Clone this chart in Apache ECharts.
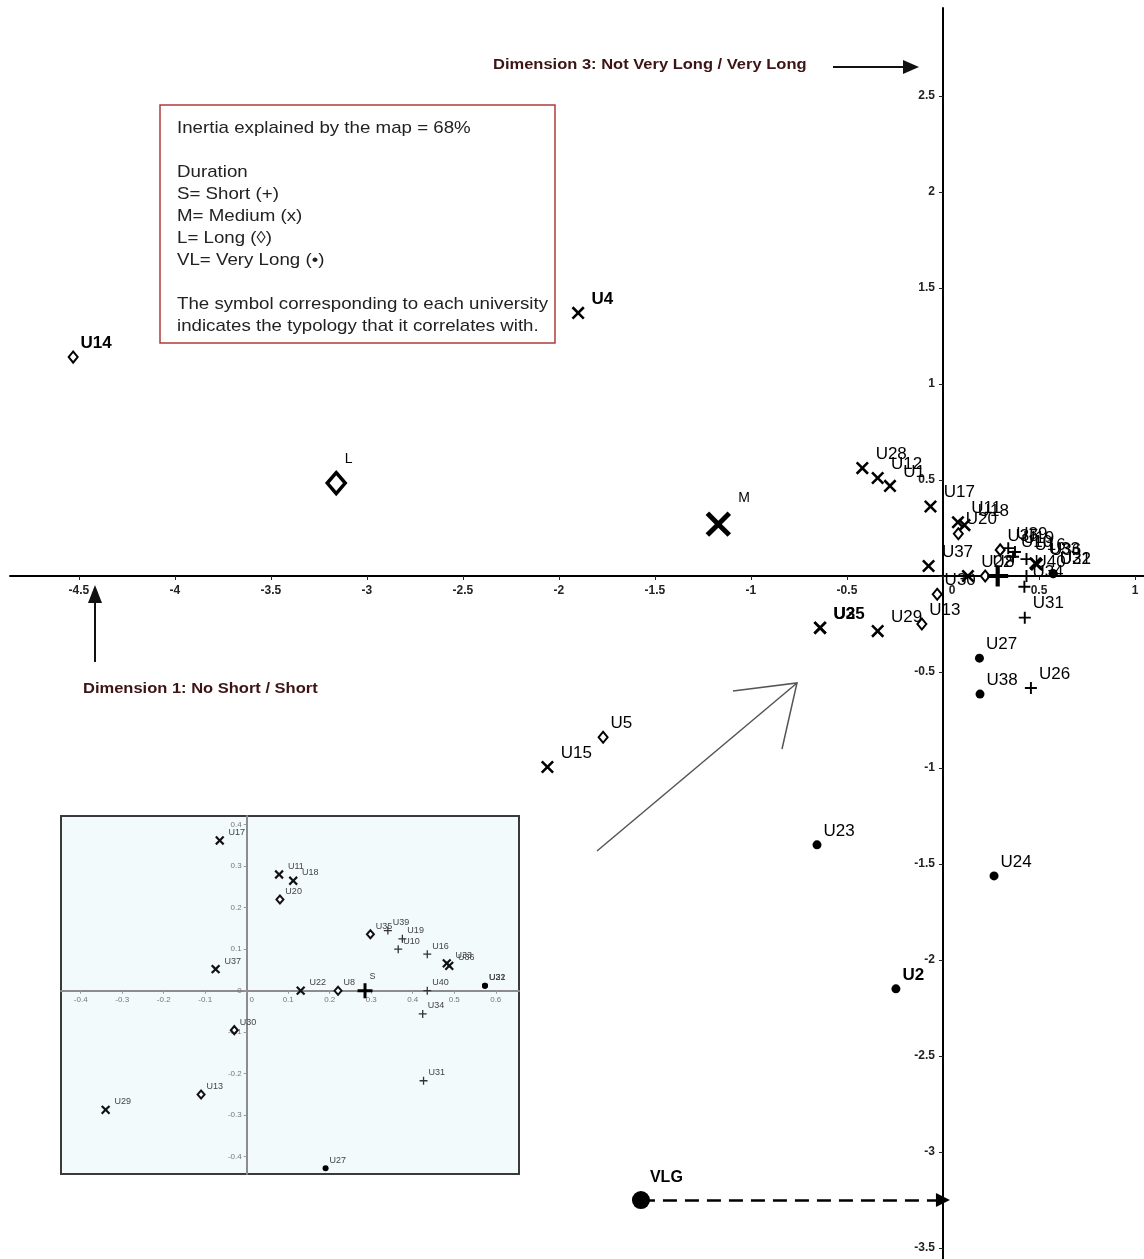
<!DOCTYPE html>
<html>
<head>
<meta charset="utf-8">
<script src="https://cdn.jsdelivr.net/npm/echarts@6/dist/echarts.min.js"></script>
<style>
html, body { margin: 0; padding: 0; background: #fff; }
#chart { width: 1144px; height: 1259px; }
</style>
</head>
<body>
<div id="chart"></div>
<script>
// Correspondence map: universities on Dimension 1 (x) and Dimension 3 (y).
// Each row: [label, dimension 1, dimension 3]
const SHORT_PTS = [
  ['U39', 0.34, 0.145],
  ['U19', 0.375, 0.125],
  ['U10', 0.365, 0.10],
  ['U16', 0.435, 0.088],
  ['U40', 0.435, 0.0],
  ['U34', 0.424, -0.056],
  ['U31', 0.426, -0.217],
  ['U26', 0.458, -0.583]
];
const MEDIUM_PTS = [
  ['U4', -1.90, 1.37],
  ['U28', -0.42, 0.562],
  ['U12', -0.34, 0.51],
  ['U1', -0.276, 0.469],
  ['U17', -0.065, 0.362],
  ['U11', 0.078, 0.28],
  ['U18', 0.112, 0.265],
  ['U37', -0.075, 0.052],
  ['U22', 0.13, 0.0],
  ['U29', -0.34, -0.287],
  ['U3', -0.64, -0.27],
  ['U25', -0.64, -0.27],
  ['U15', -2.06, -0.995],
  ['U33', 0.482, 0.066],
  ['U36', 0.488, 0.06]
];
const LONG_PTS = [
  ['U14', -4.53, 1.14],
  ['U20', 0.08, 0.22],
  ['U35', 0.298, 0.136],
  ['U8', 0.22, 0.0],
  ['U30', -0.03, -0.095],
  ['U13', -0.11, -0.25],
  ['U5', -1.77, -0.84]
];
const VERY_LONG_PTS = [
  ['U27', 0.19, -0.428],
  ['U38', 0.193, -0.615],
  ['U23', -0.656, -1.40],
  ['U24', 0.266, -1.562],
  ['U2', -0.245, -2.15],
  ['U32', 0.574, 0.012],
  ['U21', 0.574, 0.012]
];
// Duration typologies (category points)
const CENTROIDS = [
  ['S', 0.285, 0.0],
  ['M', -1.17, 0.27],
  ['L', -3.16, 0.484],
  ['VLG', -1.573, -3.25]
];
const BOLD_LABELS = ['U14', 'U4', 'U3', 'U25', 'U2', 'VLG'];

// Tick labels
const X_TICKS = [-4.5, -4, -3.5, -3, -2.5, -2, -1.5, -1, -0.5, 0, 0.5, 1];
const Y_TICKS = [-3.5, -3, -2.5, -2, -1.5, -1, -0.5, 0, 0.5, 1, 1.5, 2, 2.5];
const INSET_X_TICKS = [-0.4, -0.3, -0.2, -0.1, 0, 0.1, 0.2, 0.3, 0.4, 0.5, 0.6];
const INSET_Y_TICKS = [-0.4, -0.3, -0.2, -0.1, 0, 0.1, 0.2, 0.3, 0.4];

const LEGEND_LINES = [
  'Inertia explained by the map = 68%',
  '',
  'Duration',
  'S= Short (+)',
  'M= Medium (x)',
  'L= Long (\u25CA)',
  'VL= Very Long (\u2022)',
  '',
  'The symbol corresponding to each university',
  'indicates the typology that it correlates with.'
];

const FONT = '"Liberation Sans", Arial, sans-serif';
const PLUS_BOLD = 'path://M4,0H6V4H10V6H6V10H4V6H0V4H4Z';
const PLUS_THIN = 'path://M4.2,0H5.8V4.2H10V5.8H5.8V10H4.2V5.8H0V4.2H4.2Z';

// Plot areas and visible value ranges
const MAIN = { left: 10, top: 8, width: 1134, height: 1251, xMin: -4.859, xMax: 1.047, yMin: -3.557, yMax: 2.958 };
const INSET = { left: 61, top: 816, width: 458, height: 358, xMin: -0.4475, xMax: 0.656, yMin: -0.4417, yMax: 0.421 };

// Axis offsets that put each axis through the origin of its plot
function xAxisOffset(g) { return -(g.height * (0 - g.yMin) / (g.yMax - g.yMin)); }
function yAxisOffset(g) { return -(g.width * (0 - g.xMin) / (g.xMax - g.xMin)); }

function toData(pts) {
  return pts.map(p => {
    const item = { name: p[0], value: [p[1], p[2]] };
    if (BOLD_LABELS.indexOf(p[0]) >= 0) item.label = { fontWeight: 'bold' };
    return item;
  });
}

const mainLabel = {
  show: true, formatter: '{b}', position: 'right', distance: 2, offset: [0, -14],
  fontFamily: FONT, fontSize: 17, color: '#000', opacity: 1
};
const insetLabel = {
  show: true, formatter: '{b}', position: 'right', distance: 1, offset: [0, -8],
  fontFamily: FONT, fontSize: 9, color: '#444', opacity: 1
};

function group(pts, style, grid, label) {
  return Object.assign({
    type: 'scatter', xAxisIndex: grid, yAxisIndex: grid,
    data: toData(pts), label: label, clip: true, silent: true, z: 3
  }, style);
}

const vlg = CENTROIDS.find(c => c[0] === 'VLG');

const centroidMain = {
  type: 'scatter', xAxisIndex: 0, yAxisIndex: 0, silent: true, z: 4,
  label: Object.assign({}, mainLabel, { fontSize: 15, offset: [0, -22] }),
  data: CENTROIDS.map(c => {
    const item = { name: c[0], value: [c[1], c[2]] };
    if (c[0] === 'S') {
      Object.assign(item, { symbol: PLUS_BOLD, symbolSize: 21, itemStyle: { color: '#000', opacity: 1 }, label: { show: false } });
    } else if (c[0] === 'M') {
      Object.assign(item, { symbol: PLUS_THIN, symbolSize: 31, symbolRotate: 45, itemStyle: { color: '#000', opacity: 1 },
        label: { offset: [-4, -26], fontSize: 14 } });
    } else if (c[0] === 'L') {
      Object.assign(item, { symbol: 'diamond', symbolSize: [18, 21],
        itemStyle: { color: '#fff', borderColor: '#000', borderWidth: 3.5, opacity: 1 },
        label: { offset: [-4, -24], fontSize: 14 } });
    } else {
      Object.assign(item, { symbol: 'circle', symbolSize: 18, itemStyle: { color: '#000', opacity: 1 },
        label: { fontWeight: 'bold', fontSize: 16, offset: [-2, -22] } });
    }
    return item;
  }),
  markLine: {
    silent: true, symbol: ['none', 'triangle'], symbolSize: 14,
    label: { show: false },
    lineStyle: { type: [14, 8], color: '#000', width: 2.5, opacity: 1 },
    data: [[{ coord: [vlg[1], vlg[2]] }, { coord: [0, vlg[2]] }]]
  }
};

const centroidInset = {
  type: 'scatter', xAxisIndex: 1, yAxisIndex: 1, silent: true, z: 4, clip: true,
  label: Object.assign({}, insetLabel, { offset: [-4, -14] }),
  data: CENTROIDS.filter(c => c[0] === 'S').map(c => ({ name: c[0], value: [c[1], c[2]] })),
  symbol: PLUS_BOLD, symbolSize: 15, itemStyle: { color: '#000', opacity: 1 }
};

function numLabel(v) {
  return String(Math.round(v * 10) / 10);
}

const chart = echarts.init(document.getElementById('chart'), null, { renderer: 'canvas' });

chart.setOption({
  animation: false,
  backgroundColor: '#fff',
  grid: [
    { left: MAIN.left, top: MAIN.top, width: MAIN.width, height: MAIN.height, show: false,
      containLabel: false, outerBoundsMode: 'none' },
    { left: INSET.left, top: INSET.top, width: INSET.width, height: INSET.height, show: true,
      containLabel: false, outerBoundsMode: 'none', z: 0,
      backgroundColor: '#f2fafc', borderColor: '#3a3a3a', borderWidth: 2 }
  ],
  xAxis: [
    {
      gridIndex: 0, type: 'value', min: MAIN.xMin, max: MAIN.xMax, position: 'bottom',
      offset: xAxisOffset(MAIN), z: 2,
      axisLine: { onZero: false, lineStyle: { color: '#000', width: 2 } },
      splitLine: { show: false },
      axisTick: { show: true, length: 4, customValues: X_TICKS, lineStyle: { color: '#222', width: 1 } },
      axisLabel: {
        customValues: X_TICKS, margin: 9, fontFamily: FONT, fontSize: 12, fontWeight: 'bold', color: '#222',
        formatter: v => (v === 0 ? '{z|0}' : numLabel(v)),
        rich: { z: { padding: [0, 0, 0, 18], fontFamily: FONT, fontSize: 12, fontWeight: 'bold', color: '#222' } }
      }
    },
    {
      gridIndex: 1, type: 'value', min: INSET.xMin, max: INSET.xMax, position: 'bottom',
      offset: xAxisOffset(INSET), z: 2,
      axisLine: { onZero: false, lineStyle: { color: '#8c8c8c', width: 2 } },
      splitLine: { show: false },
      axisTick: { show: true, length: 3, customValues: INSET_X_TICKS, lineStyle: { color: '#999' } },
      axisLabel: {
        customValues: INSET_X_TICKS, margin: 5, fontFamily: FONT, fontSize: 8, color: '#777',
        formatter: v => (v === 0 ? '{z|0}' : numLabel(v)),
        rich: { z: { padding: [0, 0, 0, 10], fontFamily: FONT, fontSize: 8, color: '#777' } }
      }
    }
  ],
  yAxis: [
    {
      gridIndex: 0, type: 'value', min: MAIN.yMin, max: MAIN.yMax, position: 'left',
      offset: yAxisOffset(MAIN), z: 2,
      axisLine: { onZero: false, lineStyle: { color: '#000', width: 2 } },
      splitLine: { show: false },
      axisTick: { show: true, length: 4, customValues: Y_TICKS, lineStyle: { color: '#222', width: 1 } },
      axisLabel: {
        customValues: Y_TICKS, margin: 8, fontFamily: FONT, fontSize: 12, fontWeight: 'bold', color: '#222',
        formatter: v => (v === 0 ? '' : numLabel(v))
      }
    },
    {
      gridIndex: 1, type: 'value', min: INSET.yMin, max: INSET.yMax, position: 'left',
      offset: yAxisOffset(INSET), z: 2,
      axisLine: { onZero: false, lineStyle: { color: '#8c8c8c', width: 2 } },
      splitLine: { show: false },
      axisTick: { show: true, length: 3, customValues: INSET_Y_TICKS, lineStyle: { color: '#999' } },
      axisLabel: {
        customValues: INSET_Y_TICKS, margin: 5, fontFamily: FONT, fontSize: 8, color: '#777',
        formatter: v => numLabel(v)
      }
    }
  ],
  series: [
    group(SHORT_PTS, { symbol: PLUS_THIN, symbolSize: 12, itemStyle: { color: '#000', opacity: 1 } }, 0, mainLabel),
    group(MEDIUM_PTS, { symbol: PLUS_THIN, symbolSize: 16, symbolRotate: 45, itemStyle: { color: '#000', opacity: 1 } }, 0, mainLabel),
    group(LONG_PTS, { symbol: 'diamond', symbolSize: [9, 11],
      itemStyle: { color: '#fff', borderColor: '#000', borderWidth: 2, opacity: 1 } }, 0, mainLabel),
    group(VERY_LONG_PTS, { symbol: 'circle', symbolSize: 9, itemStyle: { color: '#000', opacity: 1 } }, 0, mainLabel),
    centroidMain,
    group(SHORT_PTS, { symbol: PLUS_THIN, symbolSize: 8, itemStyle: { color: '#333', opacity: 1 } }, 1, insetLabel),
    group(MEDIUM_PTS, { symbol: PLUS_BOLD, symbolSize: 11, symbolRotate: 45, itemStyle: { color: '#111', opacity: 1 } }, 1, insetLabel),
    group(LONG_PTS, { symbol: 'diamond', symbolSize: [7, 8],
      itemStyle: { color: '#fff', borderColor: '#111', borderWidth: 2, opacity: 1 } }, 1, insetLabel),
    group(VERY_LONG_PTS, { symbol: 'circle', symbolSize: 6, itemStyle: { color: '#000', opacity: 1 } }, 1, insetLabel),
    centroidInset
  ],
  graphic: [
    // legend box
    { type: 'rect', shape: { x: 160, y: 105, width: 395, height: 238 },
      style: { fill: '#fff', stroke: '#b03a3a', lineWidth: 1.5 }, z: 5 },
    { type: 'text', x: 177, y: 117, scaleX: 1.1, z: 6,
      style: { text: LEGEND_LINES.join('\n'), font: '17px ' + FONT, fill: '#222', lineHeight: 22, verticalAlign: 'top' } },
    // dimension captions and arrows
    { type: 'text', x: 493, y: 65, scaleX: 1.1, z: 6,
      style: { text: 'Dimension 3: Not Very Long / Very Long', font: 'bold 15px ' + FONT, fill: '#3d1414', verticalAlign: 'middle' } },
    { type: 'line', shape: { x1: 833, y1: 67, x2: 906, y2: 67 }, style: { stroke: '#111', lineWidth: 2 }, z: 6 },
    { type: 'polygon', shape: { points: [[903, 60], [919, 67], [903, 74]] }, style: { fill: '#111' }, z: 6 },
    { type: 'text', x: 83, y: 689, scaleX: 1.1, z: 6,
      style: { text: 'Dimension 1: No Short / Short', font: 'bold 15px ' + FONT, fill: '#3d1414', verticalAlign: 'middle' } },
    { type: 'line', shape: { x1: 95, y1: 662, x2: 95, y2: 600 }, style: { stroke: '#111', lineWidth: 2 }, z: 6 },
    { type: 'polygon', shape: { points: [[88, 603], [95, 585], [102, 603]] }, style: { fill: '#111' }, z: 6 },
    // pointer from the inset to the enlarged region
    { type: 'line', shape: { x1: 597, y1: 851, x2: 797, y2: 683 }, style: { stroke: '#555', lineWidth: 1.5 }, z: 6 },
    { type: 'polyline', shape: { points: [[733, 691], [797, 683], [782, 749]] },
      style: { stroke: '#555', lineWidth: 1.5, fill: null }, z: 6 }
  ]
});
</script>
</body>
</html>
